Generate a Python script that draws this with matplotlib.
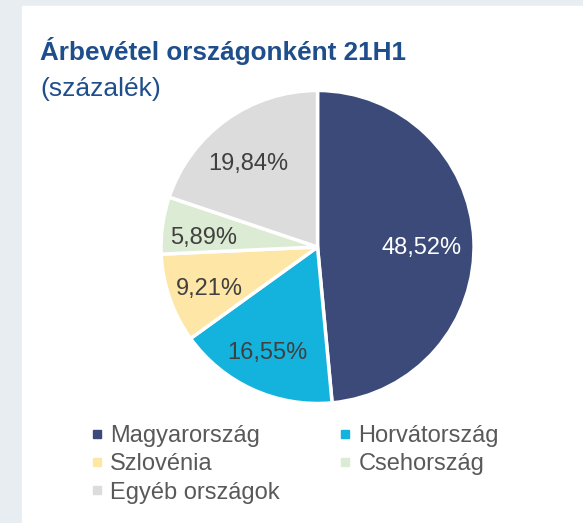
import matplotlib.pyplot as plt
from matplotlib.lines import Line2D
from matplotlib.patches import Rectangle
from matplotlib.transforms import ScaledTranslation

plt.rcParams["font.family"] = ["Liberation Sans", "DejaVu Sans"]

countries = ["Magyarország", "Horvátország", "Szlovénia", "Csehország", "Egyéb országok"]
shares = [48.52, 16.55, 9.21, 5.89, 19.84]
colors = ["#3b4a78", "#13b3de", "#fde6a6", "#dcebd3", "#dcdcdc"]
label_colors = ["white", "#404040", "#404040", "#404040", "#404040"]

fig = plt.figure(figsize=(5.83, 5.23), dpi=100)
fig.patches.append(Rectangle((0, 0), 1, 1, transform=fig.transFigure, color="#e8edf1", zorder=-2))
fig.patches.append(Rectangle((22 / 583, 0), 1, 1 - 6 / 523, transform=fig.transFigure, color="white", zorder=-1))

fig.text(40 / 583, 1 - 60 / 523, "Árbevétel országonként 21H1", fontsize=18.8, fontweight="bold", color="#1f4e8c")
fig.text(40 / 583, 1 - 96 / 523, "(százalék)", fontsize=19, color="#1f4e8c")

ax = fig.add_axes([0.2762, 0.2285, 0.5369, 0.5985])
labels = [f"{v:.2f}%".replace(".", ",") for v in shares]
wedges, texts = ax.pie(shares, colors=colors, startangle=90, counterclock=False,
                       labels=labels, labeldistance=0.7,
                       wedgeprops=dict(edgecolor="white", linewidth=2.5),
                       textprops=dict(fontsize=17, ha="center", va="center"))
# nudge labels a little down/left, like the original's label placement
shift = ScaledTranslation(-5 / 100, -6 / 100, fig.dpi_scale_trans)
for t, c in zip(texts, label_colors):
    t.set_color(c)
    t.set_ha("center")
    t.set_transform(t.get_transform() + shift)
ax.set_xlim(-1, 1)
ax.set_ylim(-1, 1)

order = [0, 2, 4, 1, 3]
handles = [Line2D([], [], marker="s", ls="", color=colors[i], markersize=5.5) for i in order]
fig.legend(handles, [countries[i] for i in order], ncol=2, loc="upper left",
           bbox_to_anchor=(79 / 583, 1 - 413 / 523), frameon=False, fontsize=17,
           labelcolor="#595959", handlelength=0.5, handletextpad=0.3,
           columnspacing=2.55, labelspacing=0.27, borderpad=0)

fig.savefig("out.png", dpi=100)
